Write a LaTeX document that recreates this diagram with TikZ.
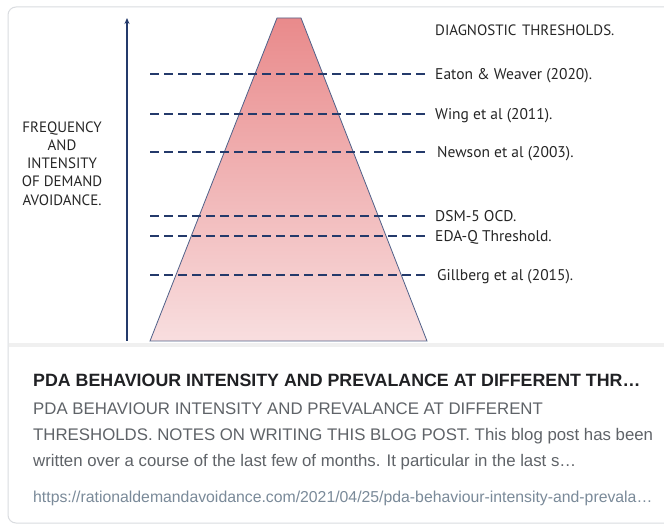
\documentclass[tikz,border=0pt]{standalone}
\usepackage{fontspec}
\setmainfont{PT Sans}
\newfontfamily\arialf{Liberation Sans}
\usetikzlibrary{arrows.meta}
\definecolor{navy}{HTML}{243A6B}
\definecolor{cardline}{HTML}{DADCE0}
\definecolor{toptxt}{HTML}{202124}
\definecolor{bodytxt}{HTML}{5F6368}
\definecolor{urltxt}{HTML}{7A8A99}
\definecolor{pinktop}{HTML}{E98A8B}
\definecolor{pinkbot}{HTML}{F8DEDF}
\begin{document}
\begin{tikzpicture}[x=1pt,y=-1pt,
  thr/.style={anchor=base west,inner sep=0pt,font=\fontsize{15.5}{18}\selectfont,text=black!85},
  dashline/.style={navy,line width=2pt,dash pattern=on 8.5pt off 5.5pt},
  cardtitle/.style={anchor=base west,inner sep=0pt,font=\arialf\bfseries\fontsize{17.8}{20}\selectfont,text=toptxt},
  cardbody/.style={anchor=base west,inner sep=0pt,font=\arialf\fontsize{16.8}{20}\selectfont,text=bodytxt},
  cardurl/.style={anchor=base west,inner sep=0pt,font=\arialf\fontsize{15.8}{18}\selectfont,text=urltxt}]
\useasboundingbox (0,0) rectangle (664,526);
\fill[white] (0,0) rectangle (664,526);
% card
\draw[cardline,line width=1pt,rounded corners=8pt] (8,7) -- (680,7) -- (680,523) -- (8,523) -- cycle;
\fill[black!6] (8.5,343) rectangle (664,347);
% pyramid
\shade[top color=pinktop,bottom color=pinkbot] (277,18) -- (301,18) -- (427,341) -- (150,341) -- cycle;
\draw[navy!80,line width=0.8pt] (277,18) -- (301,18) -- (427,341) -- (150,341) -- cycle;
% axis
\coordinate (axb) at (127,341);
\coordinate (axt) at (127,18);
\draw[navy,line width=2pt,-{Stealth[length=6pt,width=5pt]}] (axb) -- (axt);
\node[align=center,inner sep=0pt,font=\fontsize{15}{18.2}\selectfont,text=black!85] (ylab) at (62,163.5) {FREQUENCY\\AND\\INTENSITY\\OF DEMAND\\AVOIDANCE.};
% thresholds
\node[thr,font=\fontsize{15}{18}\selectfont] (title) at (435,35.5) {DIAGNOSTIC\hspace{5.5pt}THRESHOLDS.};
\node[thr] (eaton) at (435,79.5) {Eaton \& Weaver (2020).};
\node[thr] (wing) at (435,119.5) {Wing et al (2011).};
\node[thr] (newson) at (437,157.5) {Newson et al (2003).};
\node[thr] (dsm) at (435,221.5) {DSM-5 OCD.};
\node[thr] (eda) at (435,241.5) {EDA-Q Threshold.};
\node[thr] (gill) at (437,280.5) {Gillberg et al (2015).};
\foreach \n/\y in {eaton/74,wing/114,newson/152,dsm/216,eda/236,gill/275}{
  \coordinate (s\n) at (150,\y);
  \draw[dashline] (s\n) -- (s\n -| 426,0);
}
% card text
\node[cardtitle] (ct) at (33,387) {PDA BEHAVIOUR INTENSITY AND PREVALANCE AT DIFFERENT THR\ldots};
\node[cardbody] (b1) at (33,414) {PDA BEHAVIOUR INTENSITY AND PREVALANCE AT DIFFERENT};
\node[cardbody] (b2) at (33,440) {THRESHOLDS. NOTES ON WRITING THIS BLOG POST. This blog post has been};
\node[cardbody] (b3) at (33,466) {written over a course of the last few of months. It particular in the last s\ldots};
\node[cardurl] (url) at (33,502) {https://rationaldemandavoidance.com/2021/04/25/pda-behaviour-intensity-and-prevala\ldots};
\end{tikzpicture}
\end{document}
